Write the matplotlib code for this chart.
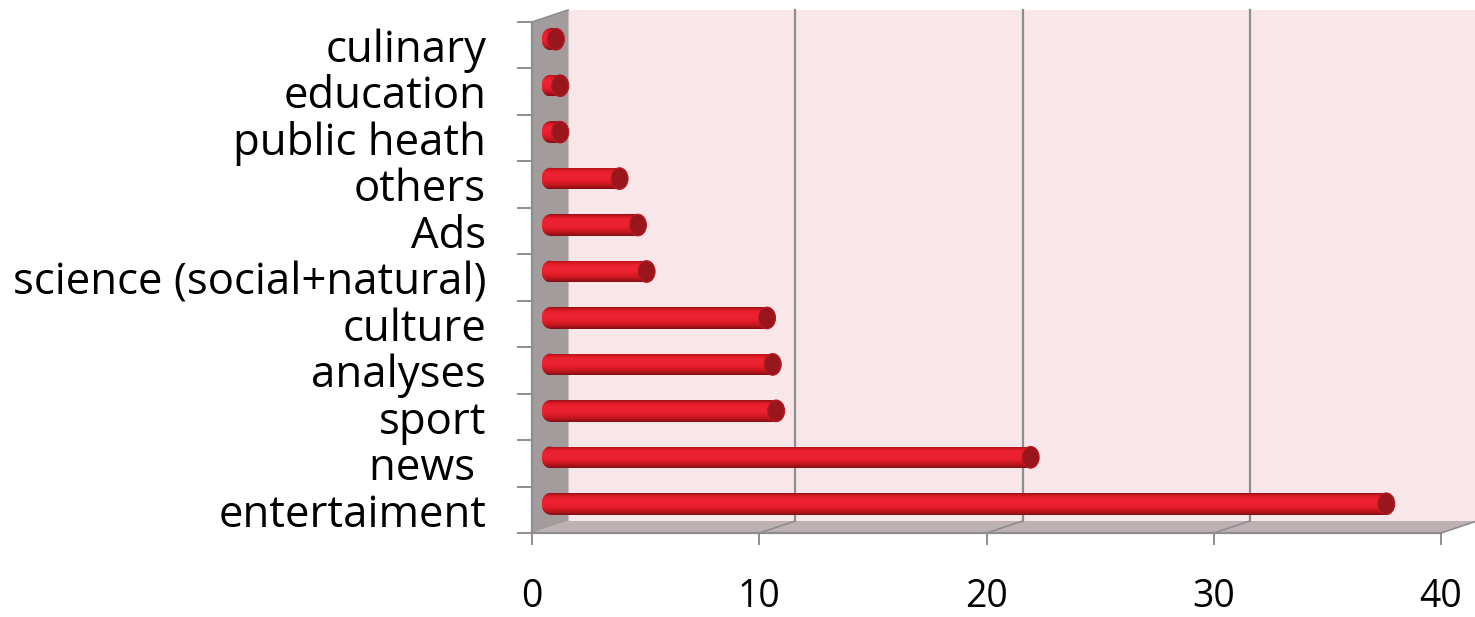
import numpy as np
import matplotlib
matplotlib.use("Agg")
import matplotlib.pyplot as plt
import matplotlib.transforms as mtransforms
from matplotlib.patches import Rectangle, Ellipse, Polygon
from matplotlib.colors import to_rgba

# ---- data -------------------------------------------------------------
categories = ["culinary", "education", "public heath", "others", "Ads",
              "science (social+natural)", "culture", "analyses", "sport",
              "news ", "entertaiment"]
values = [0.26, 0.45, 0.45, 3.06, 3.87, 4.25, 9.55, 9.8, 9.95, 21.15, 36.8]
x_ticks = [0, 10, 20, 30, 40]
x_tick_labels = ["0", "10", "20", "30", "40"]

# ---- figure / axes ----------------------------------------------------
W, H, DPI = 1475, 617, 100
plt.rcParams['font.family'] = ['Open Sans', 'DejaVu Sans']
fig = plt.figure(figsize=(W / DPI, H / DPI), dpi=DPI)
fig.patch.set_facecolor('white')

ax = fig.add_axes([532 / W, (H - 533) / H, (1441 - 532) / W, (533 - 22) / H])
n = len(categories)
ypos = np.arange(n)[::-1]          # first category on top
ax.set_xlim(0, 40)
ax.set_ylim(-0.5, n - 0.5)
ax.set_facecolor('none')

# depth of the 3-D box (in pixels): full depth for the walls, half for bars
DEPTH_X, DEPTH_Y = 36, 12
back = ax.transData + mtransforms.ScaledTranslation(DEPTH_X / DPI, DEPTH_Y / DPI, fig.dpi_scale_trans)
mid = ax.transData + mtransforms.ScaledTranslation(DEPTH_X / 2 / DPI, DEPTH_Y / 2 / DPI, fig.dpi_scale_trans)


def to_back(x, y):
    """Data point pushed to the back plane, expressed in data coordinates."""
    p = ax.transData.transform((x, y)) + np.array([DEPTH_X, DEPTH_Y])
    return tuple(ax.transData.inverted().transform(p))


grid_c = '#8E8E8E'
x0, x1 = 0, 40
y0, y1 = -0.5, n - 0.5

# back wall
ax.add_patch(Rectangle((x0, y0), x1 - x0, y1 - y0, transform=back,
                       fc='#F9E6E8', ec='none', zorder=0, clip_on=False))
# floor
ax.add_patch(Polygon([(x0, y0), (x1, y0), to_back(x1, y0), to_back(x0, y0)],
                     closed=True, fc='#BDB1B3', ec='none', zorder=0.5, clip_on=False))
# left side wall
ax.add_patch(Polygon([(x0, y0), (x0, y1), to_back(x0, y1), to_back(x0, y0)],
                     closed=True, fc='#A39C9C', ec='none', zorder=0.6, clip_on=False))
# light seam where the side wall meets the back wall
bx, by = zip(to_back(x0, y0), to_back(x0, y1))
ax.plot(bx, by, color='#C9C1C1', lw=0.8, zorder=0.7, clip_on=False)

# grid lines on the back wall and the floor
for v in x_ticks[1:]:
    if v < x1:
        gx, gy = zip(to_back(v, y0), to_back(v, y1))
        ax.plot(gx, gy, color=grid_c, lw=1.6, zorder=1, clip_on=False)
    fx, fy = zip((v, y0), to_back(v, y0))
    ax.plot(fx, fy, color=grid_c, lw=1.2, zorder=1, clip_on=False)
# top edge of the side wall
tx, ty = zip((x0, y1), to_back(x0, y1))
ax.plot(tx, ty, color=grid_c, lw=1.2, zorder=1, clip_on=False)

# ---- cylinders --------------------------------------------------------
bar_h = 0.465
px_per_x = ax.transData.transform((1, 0))[0] - ax.transData.transform((0, 0))[0]
rx = 8.5 / px_per_x                # half-width of the end ellipses

stops = [(0.00, '#8E1016'), (0.07, '#C2161F'), (0.18, '#E41E2A'),
         (0.35, '#EF2331'), (0.62, '#E61F2B'), (0.80, '#C8171F'),
         (0.92, '#A3121A'), (1.00, '#7E0E14')]
tt = np.linspace(0, 1, 64)
cols = np.array([to_rgba(c) for _, c in stops])
pos = np.array([p for p, _ in stops])
grad = np.stack([np.interp(tt, pos, cols[:, k]) for k in range(4)], axis=-1)[:, None, :]

bars = ax.barh(ypos, values, height=bar_h, left=0, color='none',
               edgecolor='none', transform=mid, zorder=3)

for k, (rect, y, v) in enumerate(zip(bars.patches, ypos, values)):
    z = 3 + k * 0.01
    # rounded left end
    lend = Ellipse((0, y), 2 * rx, bar_h, transform=mid, fc='none', ec='none')
    ax.add_patch(lend)
    im = ax.imshow(grad, extent=[-rx, v, y - bar_h / 2, y + bar_h / 2],
                   aspect='auto', origin='upper', interpolation='bilinear',
                   transform=mid, zorder=z)
    im.set_clip_path(lend)
    im2 = ax.imshow(grad, extent=[0, v, y - bar_h / 2, y + bar_h / 2],
                    aspect='auto', origin='upper', interpolation='bilinear',
                    transform=mid, zorder=z + 0.001)
    im2.set_clip_path(rect)
    # end cap
    ax.add_patch(Ellipse((v, y), 2 * rx, bar_h, transform=mid, fc='#9A161D',
                         ec='#B71C25', lw=0.8, zorder=z + 0.002))

ax.set_xlim(0, 40)
ax.set_ylim(-0.5, n - 0.5)

# ---- axes, ticks, labels ---------------------------------------------
for side in ('top', 'right'):
    ax.spines[side].set_visible(False)
for side in ('left', 'bottom'):
    ax.spines[side].set_color(grid_c)
    ax.spines[side].set_linewidth(1.6)
    ax.spines[side].set_zorder(2)

ax.set_xticks(x_ticks)
ax.set_xticklabels(x_tick_labels, fontsize=27)
ax.tick_params(axis='x', direction='out', length=8.6, width=1.4, color=grid_c,
               pad=24)

ax.set_yticks(ypos)
ax.set_yticklabels(categories, fontsize=31.5)
ax.set_yticks(np.arange(-0.5, n, 1.0), minor=True)
ax.tick_params(axis='y', which='major', length=0, pad=33)
ax.tick_params(axis='y', which='minor', direction='out', length=10.8,
               width=1.4, color=grid_c)

fig.savefig('out.png', dpi=DPI, facecolor='white')
